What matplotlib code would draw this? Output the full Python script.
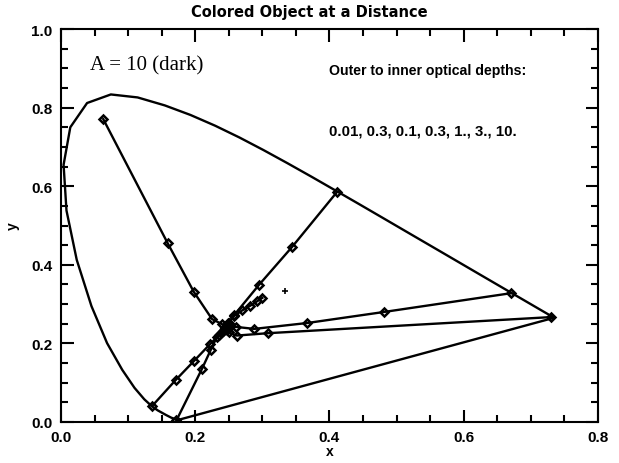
import matplotlib
matplotlib.use("Agg")
import matplotlib.pyplot as plt
from matplotlib.ticker import MultipleLocator

# spectral locus (horseshoe)
locus_x = [0.1741, 0.1644, 0.1566, 0.1440, 0.1355, 0.1241, 0.1096, 0.0913, 0.0687,
           0.0454, 0.0235, 0.0082, 0.0039, 0.0139, 0.0389, 0.0743, 0.1142, 0.1547,
           0.1929, 0.2296, 0.2658, 0.3016, 0.3373, 0.3731, 0.4087, 0.4441, 0.4788,
           0.5125, 0.5752, 0.6270, 0.6915, 0.7347, 0.1741]
locus_y = [0.0050, 0.0109, 0.0177, 0.0297, 0.0399, 0.0578, 0.0868, 0.1327, 0.2007,
           0.2950, 0.4127, 0.5384, 0.6548, 0.7502, 0.8120, 0.8338, 0.8262, 0.8059,
           0.7816, 0.7543, 0.7243, 0.6923, 0.6589, 0.6245, 0.5896, 0.5547, 0.5202,
           0.4866, 0.4242, 0.3725, 0.3083, 0.2653, 0.0050]

# colour paths, outer to inner optical depth
green_x = [0.063, 0.159, 0.198, 0.225, 0.240, 0.245, 0.247]
green_y = [0.771, 0.455, 0.331, 0.262, 0.249, 0.243, 0.240]

yellow_x = [0.411, 0.344, 0.295, 0.258, 0.250, 0.246, 0.245]
yellow_y = [0.585, 0.445, 0.349, 0.272, 0.252, 0.243, 0.240]

white_x = [0.300, 0.292, 0.282, 0.270, 0.258, 0.249, 0.246]
white_y = [0.316, 0.307, 0.296, 0.284, 0.270, 0.252, 0.243]

orange_x = [0.671, 0.481, 0.367, 0.288, 0.261, 0.250, 0.247]
orange_y = [0.328, 0.280, 0.252, 0.237, 0.242, 0.241, 0.240]

red_x = [0.730, 0.308, 0.262, 0.250, 0.247, 0.246, 0.245]
red_y = [0.267, 0.226, 0.220, 0.228, 0.234, 0.237, 0.238]

blue_x = [0.136, 0.171, 0.198, 0.222, 0.236, 0.242, 0.244]
blue_y = [0.041, 0.107, 0.155, 0.198, 0.222, 0.232, 0.236]

violet_x = [0.172, 0.210, 0.223, 0.232, 0.240, 0.243, 0.244]
violet_y = [0.004, 0.135, 0.183, 0.216, 0.230, 0.235, 0.237]

white_point = (1.0 / 3.0, 1.0 / 3.0)

paths = [(green_x, green_y), (yellow_x, yellow_y), (white_x, white_y),
         (orange_x, orange_y), (red_x, red_y), (blue_x, blue_y),
         (violet_x, violet_y)]

fig = plt.figure(figsize=(6.19, 4.64), dpi=100)
ax = fig.add_axes([0.0985, 0.0884, 0.8675, 0.8466])

ax.plot(locus_x, locus_y, color="black", lw=1.7)
for px, py in paths:
    ax.plot(px, py, color="black", lw=1.7, marker="D", ms=4.5,
            mfc="none", mec="black", mew=1.8)
ax.plot(*white_point, marker="+", color="black", ms=5, mew=1.2)

ax.set_xlim(0.0, 0.8)
ax.set_ylim(0.0, 1.0)
ax.xaxis.set_major_locator(MultipleLocator(0.2))
ax.xaxis.set_minor_locator(MultipleLocator(0.05))
ax.yaxis.set_major_locator(MultipleLocator(0.2))
ax.yaxis.set_minor_locator(MultipleLocator(0.05))
ax.tick_params(which="both", direction="in", top=True, right=True, width=1.5)
ax.tick_params(which="major", length=9, labelsize=11, pad=6)
ax.tick_params(which="minor", length=5)
ax.xaxis.set_major_formatter(plt.FormatStrFormatter("%.1f"))
ax.yaxis.set_major_formatter(plt.FormatStrFormatter("%.1f"))
for lab in ax.get_xticklabels() + ax.get_yticklabels():
    lab.set_fontweight("bold")
    lab.set_family("Liberation Sans")
for s in ax.spines.values():
    s.set_linewidth(1.5)

# IDL centres the title on the whole page
fig.text(0.5, 0.972, "Colored Object at a Distance", fontsize=10.5, fontweight="bold",
         family="DejaVu Sans", ha="center", va="center")
ax.set_xlabel("x", fontsize=10, fontweight="bold", family="Liberation Sans", labelpad=0)
ax.set_ylabel("y", fontsize=10, fontweight="bold", family="Liberation Sans", labelpad=8)

ax.text(0.043, 0.908, "A = 10 (dark)", family="Liberation Serif", fontsize=15,
        va="center", ha="left")
ax.text(0.40, 0.895, "Outer to inner optical depths:", family="Liberation Sans",
        fontweight="bold", fontsize=10.2, va="center", ha="left")
ax.text(0.40, 0.742, "0.01, 0.3, 0.1, 0.3, 1., 3., 10.", family="Liberation Sans",
        fontweight="bold", fontsize=10.8, va="center", ha="left")

fig.savefig("out.png", dpi=100)
